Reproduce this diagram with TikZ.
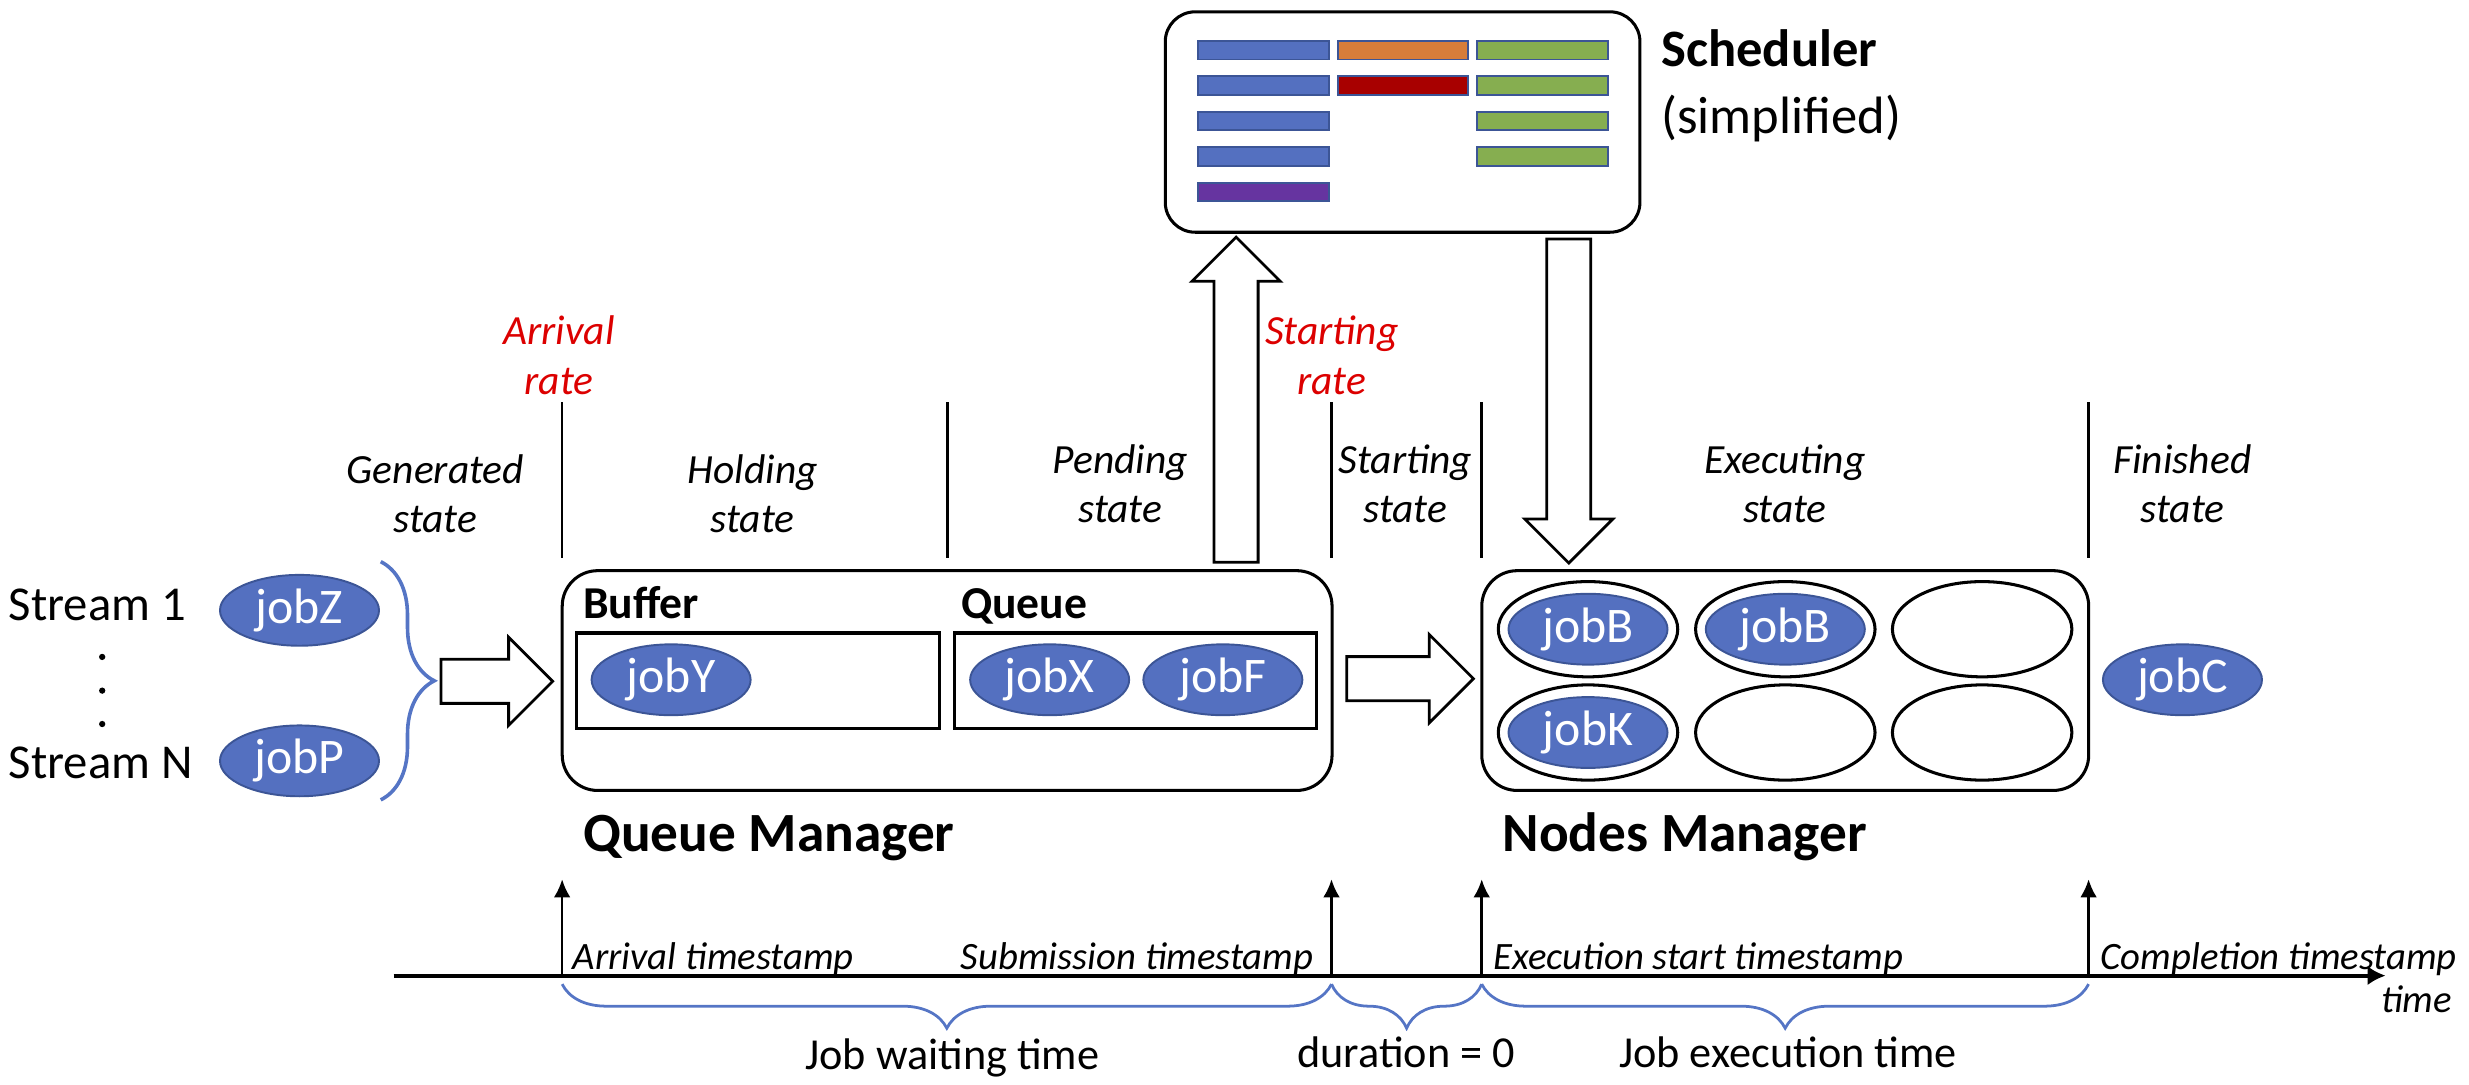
\documentclass[tikz,border=0pt]{standalone}
\usepackage{fontspec}
\setmainfont{Carlito}
\usetikzlibrary{shapes.geometric,arrows.meta,decorations.pathreplacing,calc}

\definecolor{jobblue}{RGB}{84,112,192}
\definecolor{jobedge}{RGB}{60,85,150}
\definecolor{bracecol}{RGB}{85,117,197}
\definecolor{barblue}{RGB}{84,112,192}
\definecolor{barorange}{RGB}{215,125,58}
\definecolor{barred}{RGB}{168,0,0}
\definecolor{bargreen}{RGB}{134,174,80}
\definecolor{barpurple}{RGB}{102,52,160}
\definecolor{baredge}{RGB}{60,85,150}
\definecolor{ratered}{RGB}{220,0,0}

\newcommand{\twoline}[2]{\vtop{\halign{\hfil##\hfil\cr#1\cr#2\cr}}}
\newcommand{\twolineleft}[2]{\vtop{\halign{##\hfil\cr#1\cr#2\cr}}}

\begin{document}
\begin{tikzpicture}[x=0.02cm,y=-0.02cm,
  job/.style={ellipse, fill=jobblue, draw=jobedge, line width=0.7pt,
    minimum width=2.02cm, minimum height=0.9cm, inner sep=0pt, text=white,
    font=\fontsize{18}{21}\selectfont},
  slot/.style={ellipse, draw, line width=1.1pt, minimum width=2.28cm,
    minimum height=1.21cm, inner sep=0pt},
  box/.style={draw, line width=1.1pt, rounded corners=0.45cm, inner sep=0pt},
  plainbox/.style={draw, line width=1.1pt, inner sep=0pt},
  statelbl/.style={anchor=base, inner sep=0pt, font=\fontsize{15}{17.9}\selectfont\itshape},
  ratelbl/.style={statelbl, text=ratered},
  tslbl/.style={anchor=base west, inner sep=0pt, font=\fontsize{14}{16}\selectfont\itshape},
  durlbl/.style={anchor=base, inner sep=0pt, font=\fontsize{16}{19}\selectfont},
  titlelbl/.style={anchor=base west, inner sep=0pt, font=\fontsize{20}{24}\selectfont\bfseries},
  sublbl/.style={anchor=base west, inner sep=0pt, font=\fontsize{16.5}{19}\selectfont\bfseries},
  streamlbl/.style={anchor=base west, inner sep=0pt, font=\fontsize{17.6}{21}\selectfont},
  sepline/.style={line width=0.9pt},
  tsarrow/.style={line width=0.9pt, -{Latex[length=6.5pt,width=6pt]}},
  axisline/.style={line width=1.4pt, -{Latex[length=6.5pt,width=7pt]}},
  tbrace/.style={decorate, decoration={brace, amplitude=0.56cm}, draw=bracecol, line width=1pt},
  lbrace/.style={decorate, decoration={brace, amplitude=0.68cm}, draw=bracecol, line width=1.3pt},
  bar/.style={draw=baredge, line width=0.7pt},
  blockarrow/.style={draw, line width=1pt, fill=white, line join=miter, to path={
    ($(\tikztostart)!0.28cm!90:(\tikztotarget)$)
    -- ($(\tikztotarget)!0.56cm!(\tikztostart)!0.28cm!-90:(\tikztostart)$)
    -- ($(\tikztotarget)!0.56cm!(\tikztostart)!0.56cm!-90:(\tikztostart)$)
    -- (\tikztotarget)
    -- ($(\tikztotarget)!0.56cm!(\tikztostart)!0.56cm!90:(\tikztostart)$)
    -- ($(\tikztotarget)!0.56cm!(\tikztostart)!0.28cm!90:(\tikztostart)$)
    -- ($(\tikztostart)!0.28cm!-90:(\tikztotarget)$)
    -- cycle}}
]
\useasboundingbox (0,0) rectangle (1568,689);

% ---------------- Scheduler ----------------
\node[box, rounded corners=0.38cm, minimum width=6.03cm, minimum height=2.8cm] (sched) at (890.75,77.5) {};
\foreach \r in {0,1,2,3} {
  \filldraw[bar, fill=barblue] (761,26+22.5*\r) rectangle (844,37.8+22.5*\r);
  \filldraw[bar, fill=bargreen] (938,26+22.5*\r) rectangle (1021,37.8+22.5*\r);
}
\filldraw[bar, fill=barpurple] (761,116) rectangle (844,127.8);
\filldraw[bar, fill=barorange] (850,26) rectangle (932,37.8);
\filldraw[bar, fill=barred] (850,48.5) rectangle (932,60.3);
\node[anchor=base west, inner sep=0pt, font=\fontsize{19}{24.3}\selectfont] (schedlbl) at (1054.7,42.3)
  {\twolineleft{\bfseries Scheduler}{(simplified)}};

% ---------------- state labels ----------------
\node[ratelbl] (arrrate) at (355,219) {\twoline{Arrival}{rate}};
\node[ratelbl] (startrate) at (845.8,219) {\twoline{Starting}{rate}};
\node[statelbl] (gen) at (276.5,307) {\twoline{Generated}{state}};
\node[statelbl] (hold) at (478,307) {\twoline{Holding}{state}};
\node[statelbl] (pend) at (711.5,300.6) {\twoline{Pending}{state}};
\node[statelbl] (start) at (892.5,300.6) {\twoline{Starting}{state}};
\node[statelbl] (exec) at (1133.5,300.6) {\twoline{Executing}{state}};
\node[statelbl] (fin) at (1386,300.6) {\twoline{Finished}{state}};

\foreach \x in {357,601.6,845.6,941,1326.4}
  \draw[sepline] (\x,255.5) -- (\x,354.6);

% ---------------- streams ----------------
\node[streamlbl] (s1) at (5.3,394.2) {Stream 1};
\node[streamlbl] (sN) at (5.3,494.7) {Stream N};
\fill (64.9,417.2) circle[radius=0.04cm];
\fill (64.9,438.6) circle[radius=0.04cm];
\fill (64.9,459.8) circle[radius=0.04cm];
\node[job] (jobZ) at (190.2,387.6) {jobZ};
\node[job] (jobP) at (190.2,483.2) {jobP};
\draw[lbrace] (241.8,356.7) -- (241.8,508);

% ---------------- Queue manager ----------------
\node[box, minimum width=9.78cm, minimum height=2.792cm] (qm) at (601.5,432.2) {};
\node[plainbox, minimum width=4.61cm, minimum height=1.21cm] (buffer) at (481.25,432.25) {};
\node[plainbox, minimum width=4.606cm, minimum height=1.21cm] (queue) at (721.15,432.25) {};
\node[sublbl] (bufferlbl) at (370,393) {Buffer};
\node[sublbl] (queuelbl) at (610,393) {Queue};
\node[job] (jobY) at (426.2,431.7) {jobY};
\node[job] (jobX) at (666.6,431.7) {jobX};
\node[job] (jobF) at (776.6,431.7) {jobF};
\node[titlelbl] (qmlbl) at (370,540.7) {Queue Manager};

% ---------------- Nodes manager ----------------
\node[box, minimum width=7.71cm, minimum height=2.792cm] (nm) at (1133.75,432.2) {};
\node[slot] (n11) at (1008.5,399.6) {};
\node[slot] (n12) at (1133.8,399.6) {};
\node[slot] (n13) at (1258.8,399.6) {};
\node[slot] (n21) at (1008.5,465.2) {};
\node[slot] (n22) at (1133.8,465.2) {};
\node[slot] (n23) at (1258.8,465.2) {};
\node[job] (jobB1) at (n11) {jobB};
\node[job] (jobB2) at (n12) {jobB};
\node[job] (jobK) at (n21) {jobK};
\node[job] (jobC) at (1386,431.7) {jobC};
\node[titlelbl] (nmlbl) at (954,540.7) {Nodes Manager};

% ---------------- block arrows ----------------
\coordinate (inS) at (280,432.7);
\coordinate (inT) at (351,432.7);
\coordinate (midS) at (855.3,431);
\coordinate (midT) at (935.7,431);
\coordinate (upS) at (785,357);
\coordinate (upT) at (785,150.6);
\coordinate (dnS) at (996.3,151.8);
\coordinate (dnT) at (996.3,357.6);
\draw[blockarrow] (inS) to (inT);
\draw[blockarrow] (midS) to (midT);
\draw[blockarrow] (upS) to (upT);
\draw[blockarrow] (dnS) to (dnT);

% ---------------- timeline ----------------
\coordinate (axL) at (250,619.6);
\coordinate (axR) at (1515,619.6);
\draw[axisline] (axL) -- (axR);
\foreach \n/\x in {a/357,s/845.6,e/941,c/1326.4} {
  \coordinate (t\n0) at (\x,619.6);
  \coordinate (t\n1) at (\x,558.4);
  \draw[tsarrow] (t\n0) -- (t\n1);
}
\node[tslbl] (arrts) at (363.4,615.4) {Arrival timestamp};
\node[tslbl] (subts) at (609.8,615.4) {Submission timestamp};
\node[tslbl] (exects) at (948,615.4) {Execution start timestamp};
\node[tslbl] (compts) at (1333.7,615.4) {Completion timestamp};
\node[tslbl] (timelbl) at (1512,643) {time};

\draw[tbrace] (845.6,625) -- (357,625);
\draw[tbrace] (941,625) -- (845.6,625);
\draw[tbrace] (1326.4,625) -- (941,625);
\node[durlbl] (waitlbl) at (604.8,679.5) {Job waiting time};
\node[durlbl] (durlbl0) at (893,678) {duration = 0};
\node[durlbl] (execlbl) at (1135.5,678) {Job execution time};
\end{tikzpicture}
\end{document}
